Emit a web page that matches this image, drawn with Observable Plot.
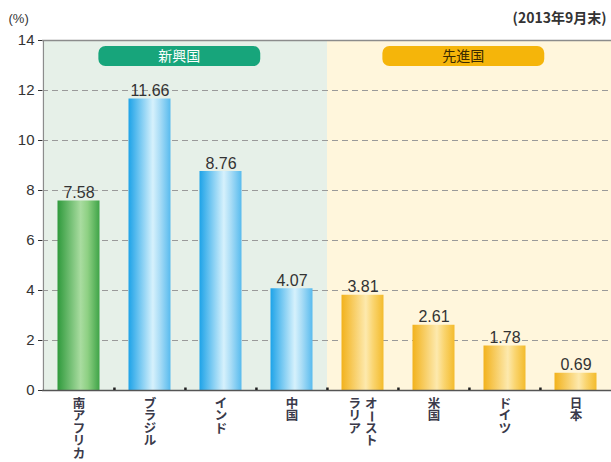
<!DOCTYPE html>
<html>
<head>
<meta charset="utf-8">
<script src="https://cdn.jsdelivr.net/npm/d3@7"></script>
<script src="https://cdn.jsdelivr.net/npm/@observablehq/plot@0.6"></script>
<style>
  html, body { margin: 0; padding: 0; background: #fff; }
  #chart svg { display: block; }
</style>
</head>
<body>
<div id="chart"></div>
<script>
// ---- data ----
const categories = ["南アフリカ", "ブラジル", "インド", "中国", "オーストラリア", "米国", "ドイツ", "日本"];
const values = [7.58, 11.66, 8.76, 4.07, 3.81, 2.61, 1.78, 0.69];
const colorGroup = ["green", "blue", "blue", "blue", "yellow", "yellow", "yellow", "yellow"];
const regionOf = ["新興国", "新興国", "新興国", "新興国", "先進国", "先進国", "先進国", "先進国"];
// vertical label columns (right-to-left order)
const labelColumns = [["南アフリカ"], ["ブラジル"], ["インド"], ["中国"], ["オースト", "ラリア"], ["米国"], ["ドイツ"], ["日本"]];
const groupNames = ["新興国", "先進国"];
const groupFirst = ["南アフリカ", "オーストラリア"];
const groupLast = ["中国", "日本"];
const yTicks = [0, 2, 4, 6, 8, 10, 12, 14];
const yMax = 14;
const pillTop = 13.76, pillBottom = 12.96;
const unitLabel = "(%)";
const dateLabel = "(2013年9月末)";

// ---- styling ----
const W = 611, H = 462, ML = 42, MR = 0, MT = 40, MB = 72;
const bw = (W - ML - MR) / categories.length;
const barInset = 14.5;
const regionFill = {"新興国": "#e6f0e8", "先進国": "#fff6dc"};
const pillFill = {"新興国": "#17a57b", "先進国": "#f5b50a"};
const pillText = {"新興国": "#ffffff", "先進国": "#3a2a00"};
const gradId = {green: "gGreen", blue: "gBlue", yellow: "gYellow"};
const jp = "'Noto Sans CJK JP', sans-serif";
const num = "'Liberation Sans', Arial, sans-serif";
const colGap = 16.5, charStep = 12.4, firstCharDy = 13.5;

const rows = categories.map((c, i) => ({cat: c, value: values[i], color: colorGroup[i], region: regionOf[i]}));

// split vertical labels into single characters
const charRows = [];
categories.forEach((c, i) => {
  const cols = labelColumns[i];
  cols.forEach((t, j) => {
    Array.from(t).forEach((ch, k) => charRows.push({cat: c, ch, off: (cols.length - 1) / 2 - j, k}));
  });
});
const charGroups = d3.groups(charRows, d => `${d.off}|${d.k}`);

const marks = [
  // region backgrounds
  Plot.barY(rows, {x: "cat", y1: 0, y2: yMax, fill: d => regionFill[d.region], insetLeft: 0, insetRight: 0}),
  // dashed grid
  Plot.ruleY(yTicks.filter(t => t > 0 && t < yMax), {stroke: "#9a9a9a", strokeWidth: 1.2, strokeDasharray: "6,4"}),
  // frame: top & left
  Plot.ruleY([yMax], {stroke: "#8c8c8c", strokeWidth: 1.5}),
  Plot.ruleX([categories[0]], {dx: -bw / 2, y1: 0, y2: yMax, stroke: "#8c8c8c", strokeWidth: 1.2}),
  // pills
  Plot.text(groupNames, {
    x: (d, i) => groupFirst[i], y: pillTop, text: d => d,
    render(index, scales, vals, dims) {
      const x = scales.x;
      const band = x.bandwidth ? x.bandwidth() : bw;
      const g = d3.create("svg:g");
      for (const i of index) {
        const name = groupNames[i];
        const x0 = x(groupFirst[i]), x1 = x(groupLast[i]) + band;
        const w = x1 - x0;
        const left = x0 + w * 0.195, right = x0 + w * 0.765;
        const top = scales.y(pillTop), bottom = scales.y(pillBottom);
        g.append("rect").attr("x", left).attr("y", top).attr("width", right - left)
          .attr("height", bottom - top).attr("rx", 7).attr("fill", pillFill[name]);
        g.append("text").attr("x", (left + right) / 2).attr("y", (top + bottom) / 2)
          .attr("dy", "0.35em").attr("text-anchor", "middle")
          .attr("fill", pillText[name]).attr("font-size", 14).attr("font-family", jp)
          .text(name);
      }
      return g.node();
    }
  }),
  // bars
  ...["green", "blue", "yellow"].map(c =>
    Plot.barY(rows.filter(d => d.color === c), {
      x: "cat", y: "value", fill: `url(#${gradId[c]})`, insetLeft: barInset, insetRight: barInset
    })
  ),
  // value labels
  Plot.text(rows, {x: "cat", y: "value", text: d => d.value.toFixed(2), lineAnchor: "bottom", dy: -3,
    fontSize: 16, fill: "#333", fontFamily: num}),
  // bottom axis line
  Plot.ruleY([0], {stroke: "#555", strokeWidth: 1.5}),
  // small boundary ticks on bottom axis
  Plot.ruleX(categories.slice(1), {x: d => d, dx: -bw / 2, y1: 0, y2: 0.1, stroke: "#222", strokeWidth: 2.5}),
  // x labels: vertical, one character per line
  ...charGroups.map(([key, grp]) => {
    const off = grp[0].off, k = grp[0].k;
    return Plot.text(grp, {x: "cat", y: 0, text: "ch", dx: off * colGap, dy: firstCharDy + k * charStep,
      lineAnchor: "middle", textAnchor: "middle", rotate: d => d.ch === "ー" ? 90 : 0,
      fontSize: 12.5, fontWeight: "bold", fill: "#3a3a4a", fontFamily: jp});
  }),
  // y axis
  Plot.axisY({ticks: yTicks, tickSize: 4, tickPadding: 4, fontSize: 15, fontFamily: num, color: "#333", label: null}),
  // titles
  Plot.text([unitLabel], {frameAnchor: "top-left", dx: -34, dy: -22, lineAnchor: "middle", textAnchor: "start",
    fontSize: 13, fill: "#333", fontFamily: num}),
  Plot.text([dateLabel], {frameAnchor: "top-right", dx: -5, dy: -22, lineAnchor: "middle", textAnchor: "end",
    fontSize: 14, fontWeight: "bold", fill: "#333", fontFamily: jp})
];

const svg = Plot.plot({
  width: W, height: H,
  marginLeft: ML, marginRight: MR, marginTop: MT, marginBottom: MB,
  style: {background: "#fff", overflow: "visible"},
  x: {domain: categories, padding: 0, axis: null},
  y: {domain: [0, yMax], axis: null},
  marks
});

// gradients
const defs = d3.select(svg).insert("defs", ":first-child");
const grads = {
  gGreen: [["0%", "#2f9a3c"], ["55%", "#a9dca0"], ["72%", "#8ed083"], ["100%", "#3fa448"]],
  gBlue: [["0%", "#1ea3e8"], ["58%", "#d6f1fc"], ["75%", "#a8dcf6"], ["100%", "#58bbee"]],
  gYellow: [["0%", "#f2b21c"], ["58%", "#fde9ad"], ["75%", "#fad570"], ["100%", "#f3bb2c"]]
};
for (const [id, stops] of Object.entries(grads)) {
  const lg = defs.append("linearGradient").attr("id", id).attr("x1", "0%").attr("x2", "100%").attr("y1", "0%").attr("y2", "0%");
  for (const [o, c] of stops) lg.append("stop").attr("offset", o).attr("stop-color", c);
}

document.getElementById("chart").appendChild(svg);
</script>
</body>
</html>
